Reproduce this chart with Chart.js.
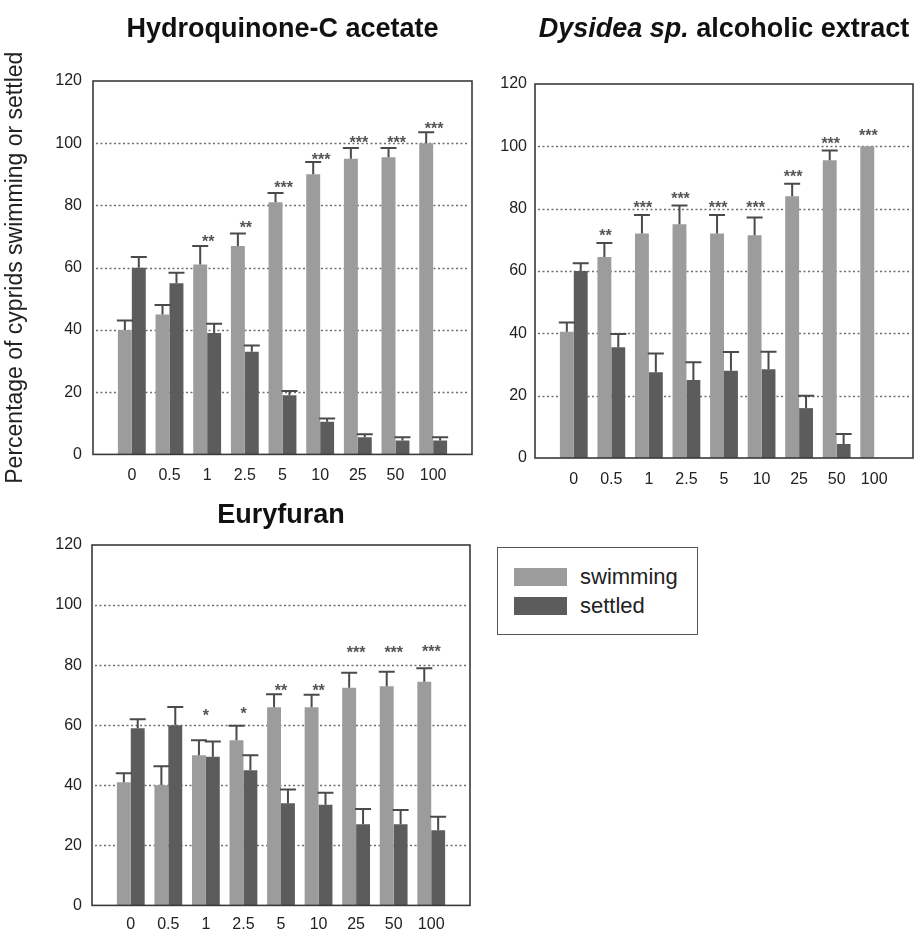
<!DOCTYPE html>
<html>
<head>
<meta charset="utf-8">
<title>Cyprid swimming and settlement</title>
<script src="https://cdn.jsdelivr.net/npm/chart.js@4.4.1/dist/chart.umd.min.js"></script>
<style>
  html, body { margin: 0; padding: 0; background: #fff; }
  body { position: relative; width: 922px; height: 945px; overflow: hidden;
         font-family: "Liberation Sans", Arial, Helvetica, sans-serif; }
  canvas { position: absolute; }
  #legend { position: absolute; left: 497px; top: 547px; width: 199px; height: 86px;
            border: 1.5px solid #555; box-sizing: content-box; }
  #legend .row { position: absolute; left: 16px; height: 18px; display: flex; align-items: center; }
  #legend .sw { width: 53px; height: 18px; }
  #legend .lbl { margin-left: 13px; font-size: 22px; color: #222; line-height: 18px; }
</style>
</head>
<body>
<canvas id="pHydro" width="480" height="495" style="left:0;top:0"></canvas>
<canvas id="pDysidea" width="442" height="498" style="left:480px;top:0"></canvas>
<canvas id="pEury" width="480" height="455" style="left:0;top:490px"></canvas>
<div id="legend"></div>
<script>
// Concentrations tested (x categories) and y tick values
const concentrations = ['0', '0.5', '1', '2.5', '5', '10', '25', '50', '100'];
const yTickValues = [0, 20, 40, 60, 80, 100, 120];
const seriesNames = ['swimming', 'settled'];
const seriesColors = ['#9c9c9c', '#5c5c5c'];
const yAxisLabel = 'Percentage of cyprids swimming or settled';

// Hydroquinone-C acetate: mean % and error
const hqSwimming    = [40, 45, 61, 67, 81, 90, 95, 95.5, 100];
const hqSwimmingErr = [3, 3, 6, 4, 3, 4, 3.5, 3, 3.5];
const hqSettled     = [60, 55, 39, 33, 19, 10.5, 5.5, 4.5, 4.5];
const hqSettledErr  = [3.4, 3.4, 3, 2, 1.4, 1, 1, 1, 1];
const hqStars       = ['', '', '**', '**', '***', '***', '***', '***', '***'];
const hqStarLevels  = [null, null, 69.5, 74, 87, 96, 101.6, 101.6, 106];

// Dysidea sp. alcoholic extract
const dySwimming    = [40.5, 64.5, 72, 75, 72, 71.5, 84, 95.5, 100];
const dySwimmingErr = [3, 4.5, 6, 6, 6, 5.7, 4, 3.2, 0];
const dySettled     = [60, 35.5, 27.5, 25, 28, 28.5, 16, 4.5, 0];
const dySettledErr  = [2.5, 4.3, 6, 5.7, 6, 5.6, 4, 3.2, 0];
const dyStars       = ['', '**', '***', '***', '***', '***', '***', '***', '***'];
const dyStarLevels  = [null, 72.5, 81.6, 84.5, 81.6, 81.6, 91.4, 102.1, 104.6];

// Euryfuran
const euSwimming    = [41, 40, 50, 55, 66, 66, 72.5, 73, 74.5];
const euSwimmingErr = [3, 6.3, 5, 4.8, 4.3, 4.1, 5, 4.8, 4.5];
const euSettled     = [59, 60, 49.5, 45, 34, 33.5, 27, 27, 25];
const euSettledErr  = [3, 6.1, 5.1, 5, 4.6, 4, 5.1, 4.8, 4.5];
const euStars       = ['', '', '*', '*', '**', '**', '***', '***', '***'];
const euStarLevels  = [null, null, 64.6, 65.2, 72.9, 72.9, 85.5, 85.5, 85.7];

const FAMILY = '"Liberation Sans", Arial, Helvetica, sans-serif';

// Dotted grid, plot frame and the panel heading
const panelDecor = {
  id: 'panelDecor',
  beforeDatasetsDraw(chart, args, o) {
    const { ctx, chartArea: a, scales: { y } } = chart;
    const L = a.left - o.pad, R = a.right + o.pad;
    ctx.save();
    ctx.strokeStyle = o.gridColor;
    ctx.lineWidth = 1.5;
    ctx.setLineDash([2, 2.5]);
    yTickValues.forEach(v => {
      if (v <= y.min || v >= y.max) return;
      const py = Math.round(y.getPixelForValue(v)) + 0.5;
      ctx.beginPath();
      ctx.moveTo(L + 3, py);
      ctx.lineTo(R - 3, py);
      ctx.stroke();
    });
    ctx.restore();
  },
  afterDraw(chart, args, o) {
    const { ctx, chartArea: a } = chart;
    const L = a.left - o.pad, R = a.right + o.pad;
    ctx.save();
    ctx.strokeStyle = o.frameColor;
    ctx.lineWidth = 1.6;
    ctx.strokeRect(L, a.top, R - L, a.bottom - a.top);
    // heading, possibly with italic parts
    const parts = o.title.map(p => ({
      text: p.text,
      font: (p.italic ? 'italic ' : '') + 'bold ' + o.titleSize + 'px ' + FAMILY
    }));
    let total = 0;
    parts.forEach(p => { ctx.font = p.font; p.w = ctx.measureText(p.text).width; total += p.w; });
    let x = (L + R) / 2 - total / 2;
    ctx.fillStyle = '#111';
    ctx.textBaseline = 'alphabetic';
    ctx.textAlign = 'left';
    parts.forEach(p => { ctx.font = p.font; ctx.fillText(p.text, x, o.titleBaseline); x += p.w; });
    ctx.restore();
  }
};

// Upward error bars and significance marks
const errorBars = {
  id: 'errorBars',
  afterDatasetsDraw(chart, args, o) {
    const { ctx, scales: { y } } = chart;
    ctx.save();
    ctx.strokeStyle = o.color;
    ctx.lineWidth = o.width;
    chart.data.datasets.forEach((ds, di) => {
      const meta = chart.getDatasetMeta(di);
      const errs = o.errors[di];
      meta.data.forEach((bar, i) => {
        const e = errs[i];
        if (!e) return;
        const top = y.getPixelForValue(ds.data[i] + e);
        ctx.beginPath();
        ctx.moveTo(bar.x, bar.y);
        ctx.lineTo(bar.x, top);
        ctx.moveTo(bar.x - o.cap, top);
        ctx.lineTo(bar.x + o.cap, top);
        ctx.stroke();
      });
    });
    const swim = chart.getDatasetMeta(0);
    ctx.fillStyle = o.starColor;
    ctx.font = 'bold ' + o.starSize + 'px ' + FAMILY;
    ctx.textAlign = 'center';
    ctx.textBaseline = 'alphabetic';
    o.stars.forEach((s, i) => {
      if (!s) return;
      const py = y.getPixelForValue(o.starLevels[i]);
      ctx.fillText(s, swim.data[i].x + o.starShift, py + 0.58 * o.starSize);
    });
    ctx.restore();
  }
};

function makePanel(id, p) {
  const yScale = {
    min: 0, max: 120,
    grid: { display: false, drawTicks: false },
    border: { display: false },
    ticks: { color: '#222', font: { size: 16, family: FAMILY }, padding: p.yTickPad },
    afterBuildTicks(s) { s.ticks = yTickValues.map(v => ({ value: v })); },
    afterFit(s) { s.width = p.yWidth; }
  };
  if (p.yTitle) {
    yScale.title = {
      display: true, text: yAxisLabel, color: '#222',
      font: { size: 23, family: FAMILY }, padding: { top: 2, bottom: 0 }
    };
  }
  return new Chart(document.getElementById(id), {
    type: 'bar',
    data: {
      labels: concentrations,
      datasets: [
        { label: seriesNames[0], data: p.swim, backgroundColor: seriesColors[0] },
        { label: seriesNames[1], data: p.settled, backgroundColor: seriesColors[1] }
      ]
    },
    options: {
      responsive: false,
      animation: false,
      devicePixelRatio: 1,
      categoryPercentage: 0.74,
      barPercentage: 1.0,
      layout: { padding: { left: 0, right: p.padRight, top: p.padTop, bottom: 0 } },
      scales: {
        x: {
          grid: { display: false, drawTicks: false },
          border: { display: false },
          ticks: { color: '#222', font: { size: 16, family: FAMILY }, padding: p.xTickPad,
                   maxRotation: 0, autoSkip: false },
          afterFit(s) { s.height = p.xHeight; }
        },
        y: yScale
      },
      plugins: {
        legend: { display: false },
        tooltip: { enabled: false },
        panelDecor: { pad: 20, gridColor: '#6e6e6e', frameColor: '#3a3a3a',
                      title: p.title, titleSize: 27, titleBaseline: p.titleBaseline },
        errorBars: { errors: [p.swimErr, p.settledErr], color: '#4a4a4a', width: 2, cap: 8,
                     stars: p.stars, starLevels: p.starLevels, starShift: p.starShift,
                     starSize: 16, starColor: '#555' }
      }
    },
    plugins: [panelDecor, errorBars]
  });
}

makePanel('pHydro', {
  swim: hqSwimming, swimErr: hqSwimmingErr, settled: hqSettled, settledErr: hqSettledErr,
  stars: hqStars, starLevels: hqStarLevels, starShift: 8,
  title: [{ text: 'Hydroquinone-C acetate' }], titleBaseline: 37,
  yTitle: true, yWidth: 113, yTickPad: 31, padRight: 28, padTop: 81, xHeight: 40, xTickPad: 12
});

makePanel('pDysidea', {
  swim: dySwimming, swimErr: dySwimmingErr, settled: dySettled, settledErr: dySettledErr,
  stars: dyStars, starLevels: dyStarLevels, starShift: 1,
  title: [{ text: 'Dysidea sp.', italic: true }, { text: ' alcoholic extract' }], titleBaseline: 37,
  yTitle: false, yWidth: 75, yTickPad: 28, padRight: 29, padTop: 84, xHeight: 40, xTickPad: 12
});

makePanel('pEury', {
  swim: euSwimming, swimErr: euSwimmingErr, settled: euSettled, settledErr: euSettledErr,
  stars: euStars, starLevels: euStarLevels, starShift: 7,
  title: [{ text: 'Euryfuran' }], titleBaseline: 33,
  yTitle: false, yWidth: 112, yTickPad: 30, padRight: 30, padTop: 55, xHeight: 28, xTickPad: 10
});

// Legend built from the series names and colours
const legend = document.getElementById('legend');
seriesNames.forEach((name, i) => {
  const row = document.createElement('div');
  row.className = 'row';
  row.style.top = (20 + i * 29) + 'px';
  const sw = document.createElement('div');
  sw.className = 'sw';
  sw.style.background = seriesColors[i];
  const lbl = document.createElement('span');
  lbl.className = 'lbl';
  lbl.textContent = name;
  row.appendChild(sw);
  row.appendChild(lbl);
  legend.appendChild(row);
});
</script>
</body>
</html>
